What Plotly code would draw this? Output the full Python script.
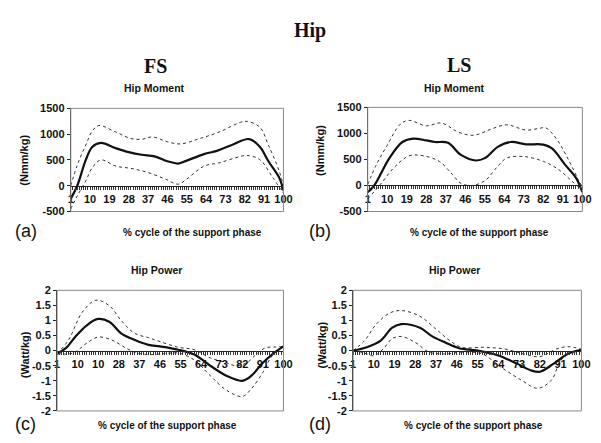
import plotly.graph_objects as go

# ---------------- data ----------------
categories = list(range(1, 101))
x_tick_labels_a = {1: "1", 10: "10", 19: "19", 28: "28", 37: "37", 46: "46", 55: "55", 64: "64", 73: "73", 82: "82", 91: "91", 100: "100"}
x_tick_labels_b = {1: "1", 10: "10", 19: "19", 28: "28", 37: "37", 46: "46", 55: "55", 64: "64", 73: "73", 82: "82", 91: "91", 100: "100"}
x_tick_labels_c = {1: "1", 10: "10", 19: "10", 28: "28", 37: "37", 46: "46", 55: "55", 64: "64", 73: "73", 82: "82", 91: "91", 100: "100"}
x_tick_labels_d = {1: "1", 10: "10", 19: "19", 28: "28", 37: "37", 46: "46", 55: "55", 64: "64", 73: "73", 82: "82", 91: "91", 100: "100"}

moment_ticks = [-500, 0, 500, 1000, 1500]
moment_tick_text = ["-500", "0", "500", "1000", "1500"]
power_ticks = [-2, -1.5, -1, -0.5, 0, 0.5, 1, 1.5, 2]
power_tick_text = ["-2", "-1.5", "-1", "-0.5", "0", "0.5", "1", "1.5", "2"]

# (a) FS hip moment
a_mean_x = [1, 4, 8, 11, 15, 22, 28, 34, 40, 46, 51, 55, 63, 69, 76, 84, 89, 93, 98, 100]
a_mean_y = [-250, 0, 500, 750, 830, 727, 651, 600, 570, 475, 430, 487, 613, 676, 790, 905, 758, 475, 160, -90]
a_up_x = [1, 4, 8, 11, 14, 22, 29, 34, 39, 46, 52, 61, 70, 80, 83, 89, 93, 98, 100]
a_up_y = [0, 400, 790, 1060, 1167, 1040, 915, 900, 946, 852, 810, 915, 1040, 1230, 1248, 1135, 789, 286, 0]
a_lo_x = [1, 4, 8, 11, 15, 22, 29, 37, 45, 51, 55, 63, 70, 80, 83, 89, 95, 100]
a_lo_y = [-450, -200, 97, 350, 500, 380, 336, 255, 129, 30, 129, 380, 443, 569, 588, 506, 160, -150]

# (b) LS hip moment
b_mean_x = [1, 4, 11, 17, 22, 28, 32, 38, 44, 51, 55, 61, 67, 74, 82, 86, 92, 97, 100]
b_mean_y = [-130, 0, 525, 835, 900, 866, 835, 820, 587, 480, 525, 742, 835, 791, 785, 711, 400, 152, -127]
b_up_x = [1, 5, 10, 16, 20, 28, 35, 43, 50, 58, 65, 74, 80, 83, 88, 94, 98, 100]
b_up_y = [20, 400, 773, 1177, 1250, 1146, 1200, 1021, 965, 1084, 1165, 1065, 1096, 1109, 898, 462, 121, -34]
b_lo_x = [1, 7, 13, 20, 26, 34, 40, 44, 49, 55, 61, 65, 73, 82, 89, 95, 100]
b_lo_y = [-260, 28, 339, 568, 575, 463, 214, 40, 0, 90, 370, 525, 556, 463, 307, 90, -96]

# (c) FS hip power
c_mean_x = [1, 5, 9, 14, 19, 24, 29, 35, 41, 46, 54, 61, 68, 75, 82, 86, 91, 95, 100]
c_mean_y = [-0.1, 0.09, 0.46, 0.84, 1.05, 0.95, 0.57, 0.35, 0.19, 0.14, 0.03, -0.13, -0.5, -0.83, -1.0, -0.83, -0.4, -0.13, 0.14]
c_up_x = [1, 6, 12, 18, 24, 29, 35, 41, 46, 54, 61, 68, 75, 79, 84, 88, 92, 96, 100]
c_up_y = [-0.1, 0.35, 1.27, 1.67, 1.48, 1.0, 0.57, 0.43, 0.3, 0.11, 0.03, -0.24, -0.4, -0.5, -0.4, -0.13, 0.09, 0.12, 0.14]
c_lo_x = [1, 8, 14, 19, 25, 31, 36, 42, 48, 54, 61, 68, 75, 82, 86, 91, 95, 100]
c_lo_y = [-0.1, -0.08, 0.25, 0.45, 0.35, 0.09, -0.08, -0.13, -0.1, -0.08, -0.31, -0.83, -1.31, -1.52, -1.26, -0.72, -0.18, 0.14]

# (d) LS hip power
d_mean_x = [1, 7, 13, 18, 22, 30, 35, 41, 47, 55, 64, 72, 78, 82, 88, 94, 100]
d_mean_y = [0, 0.11, 0.33, 0.76, 0.88, 0.76, 0.49, 0.27, 0.08, 0, -0.16, -0.43, -0.65, -0.7, -0.43, -0.11, 0.03]
d_up_x = [1, 6, 11, 17, 22, 30, 37, 43, 48, 58, 67, 75, 82, 89, 94, 100]
d_up_y = [0, 0.33, 0.87, 1.25, 1.33, 1.14, 0.71, 0.33, 0.11, 0.11, 0.05, -0.11, -0.2, 0.05, 0.13, 0.05]
d_lo_x = [1, 6, 10, 14, 18, 22, 28, 34, 41, 48, 57, 65, 74, 81, 87, 91, 95, 100]
d_lo_y = [0, -0.08, -0.17, 0.05, 0.4, 0.47, 0.27, -0.05, -0.11, -0.05, -0.11, -0.54, -0.98, -1.25, -0.98, -0.33, -0.09, 0]

# ---------------- figure ----------------
W, H = 601, 443
fig = go.Figure()

panels = [
    ("", (61, 278, 97, 203), [-500, 1500], moment_ticks, moment_tick_text, x_tick_labels_a,
     (a_mean_x, a_mean_y, a_up_x, a_up_y, a_lo_x, a_lo_y)),
    ("2", (364, 583, 96, 203), [-500, 1500], moment_ticks, moment_tick_text, x_tick_labels_b,
     (b_mean_x, b_mean_y, b_up_x, b_up_y, b_lo_x, b_lo_y)),
    ("3", (47, 278, 284, 408), [-2, 2], power_ticks, power_tick_text, x_tick_labels_c,
     (c_mean_x, c_mean_y, c_up_x, c_up_y, c_lo_x, c_lo_y)),
    ("4", (349, 582, 284, 408), [-2, 2], power_ticks, power_tick_text, x_tick_labels_d,
     (d_mean_x, d_mean_y, d_up_x, d_up_y, d_lo_x, d_lo_y)),
]

tick_font = dict(family="Arial, Liberation Sans, sans-serif", size=11, color="#111", weight="bold")
shapes = []
for pid, (l, r, t, b), yr, yt, ytt, xlab, ser in panels:
    xd = [l / W, r / W]
    yd = [1 - b / H, 1 - t / H]
    zero_pos = yd[0] + (0 - yr[0]) / (yr[1] - yr[0]) * (yd[1] - yd[0])
    xa = "x" + pid
    ya = "y" + pid
    mx, my, ux, uy, lx, ly = ser
    for xs, ys, dash, width, col in [(ux, uy, "dot", 1, "#333"),
                                     (lx, ly, "dot", 1, "#333"),
                                     (mx, my, "solid", 2.2, "#111")]:
        fig.add_trace(go.Scatter(x=xs, y=ys, mode="lines", xaxis=xa, yaxis=ya,
                                 line=dict(color=col, width=width, dash=dash, shape="spline", smoothing=1.0),
                                 showlegend=False, hoverinfo="skip"))
    fig.update_layout(**{
        "xaxis" + pid: dict(domain=xd, range=[1, 100], anchor="free", position=zero_pos,
                            showline=True, linecolor="#222", linewidth=1,
                            tickmode="array", tickvals=categories,
                            ticktext=[xlab.get(c, "") for c in categories],
                            ticks="outside", ticklen=3, tickcolor="#333", tickwidth=1,
                            showgrid=False, zeroline=False, tickfont=tick_font, fixedrange=True),
        "yaxis" + pid: dict(domain=yd, range=yr, anchor=xa,
                            showline=True, linecolor="#222", linewidth=1,
                            tickmode="array", tickvals=yt, ticktext=ytt,
                            ticks="outside", ticklen=3, tickcolor="#222",
                            showgrid=False, zeroline=False, tickfont=tick_font, fixedrange=True),
    })
    shapes.append(dict(type="rect", xref=xa + " domain", yref=ya + " domain",
                       x0=0, x1=1, y0=0, y1=1, line=dict(color="#888", width=1), layer="above"))

serif = "Liberation Serif, Times New Roman, serif"
sans = "Arial, Liberation Sans, sans-serif"
ann = []


def txt(x, y, s, size, family=sans, bold=True, angle=0, xanchor="center"):
    ann.append(dict(x=x / W, y=1 - y / H, xref="paper", yref="paper", text=("<b>%s</b>" % s) if bold else s,
                    showarrow=False, font=dict(family=family, size=size, color="#111"),
                    textangle=angle, xanchor=xanchor, yanchor="middle"))


txt(305, 17, "Hip", 20, serif)
txt(147, 53, "FS", 20, serif)
txt(457, 52, "LS", 20, serif)
txt(146, 76, "Hip Moment", 10.5)
txt(453, 76, "Hip Moment", 10.5)
txt(148, 263, "Hip Power", 10.5)
txt(453, 263, "Hip Power", 10.5)
txt(185, 225, "% cycle of the support phase", 10)
txt(478, 225, "% cycle of the support phase", 10)
txt(160, 423, "% cycle of the support phase", 10)
txt(472, 423, "% cycle of the support phase", 10)
txt(13, 150, "(Nmm/kg)", 11, angle=-90)
txt(316, 140, "(Nmm/kg)", 11, angle=-90)
txt(14, 350, "(Watt/kg)", 11, angle=-90)
txt(317, 340, "(Watt/kg)", 11, angle=-90)
txt(2, 223, "(a)", 18, bold=False, xanchor="left")
txt(302, 223, "(b)", 18, bold=False, xanchor="left")
txt(2, 421, "(c)", 18, bold=False, xanchor="left")
txt(302, 421, "(d)", 18, bold=False, xanchor="left")

fig.update_layout(width=W, height=H, margin=dict(l=0, r=0, t=0, b=0),
                  paper_bgcolor="white", plot_bgcolor="white",
                  annotations=ann, shapes=shapes, showlegend=False)

fig.write_html("out.html")
